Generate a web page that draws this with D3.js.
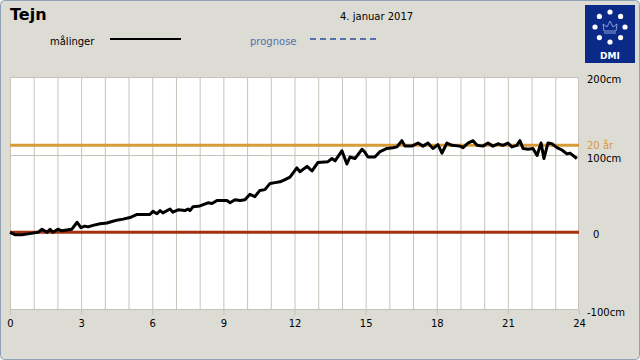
<!DOCTYPE html>
<html><head><meta charset="utf-8">
<script src="https://cdn.jsdelivr.net/npm/d3@7"></script>
<style>body{margin:0;background:#fff}svg{display:block;font-family:"DejaVu Sans",sans-serif}</style>
</head><body><svg id="c" width="640" height="360"></svg>
<script>
const hours = [0,0.21,0.51,0.76,0.97,1.18,1.35,1.56,1.69,1.81,2.02,2.19,2.40,2.61,2.83,2.99,3.16,3.29,3.50,3.80,4.09,4.30,4.56,4.77,5.06,5.36,5.90,6.03,6.20,6.33,6.45,6.75,6.87,7.09,7.38,7.51,7.59,7.72,8.01,8.35,8.52,8.73,9.15,9.28,9.49,9.70,9.91,10.12,10.33,10.54,10.75,10.97,11.18,11.39,11.60,11.81,12.10,12.23,12.53,12.74,12.99,13.41,13.58,13.71,14.00,14.21,14.34,14.55,14.85,14.97,15.10,15.39,15.61,15.90,16.15,16.32,16.53,16.66,16.95,17.21,17.42,17.63,17.84,18.05,18.22,18.43,18.64,18.98,19.11,19.32,19.53,19.70,19.95,20.16,20.37,20.58,20.79,21.00,21.17,21.38,21.51,21.64,21.85,22.06,22.23,22.40,22.52,22.69,22.86,23.07,23.28,23.49,23.62,23.91];
const levels = [0,-3,-3,-2,-1,0,4,0,4,0,4,2,3,4,13,6,8,7,9,11,12,14,16,17,19,23,23,27,24,28,25,30,26,29,28,30,28,33,34,38,37,41,41,38,42,41,42,49,46,54,55,63,64,65,68,71,83,78,85,79,90,91,95,92,105,88,97,95,107,103,97,97,104,108,109,110,118,111,111,115,111,115,108,113,102,115,112,111,109,115,118,112,111,115,111,114,112,115,110,112,118,108,107,108,99,115,95,115,114,109,106,101,102,95];
const xTicks = [0,3,6,9,12,15,18,21,24];
const yTicks = [200,100,0,-100];
const yTickLabels = ["200cm","100cm","0","-100cm"];
const level20 = 112;
const title = "Tejn", dateText = "4. januar 2017";

const svg = d3.select("#c");
svg.append("rect").attr("x",0.5).attr("y",0.5).attr("width",639).attr("height",359).attr("rx",4)
  .attr("fill","#dcdbd4").attr("stroke","#8fa1b5");

const x = d3.scaleLinear().domain([0,24]).range([10,579]);
const y = d3.scaleLinear().domain([-100,200]).range([310,77]);

svg.append("rect").attr("x",10).attr("y",77).attr("width",569).attr("height",233).attr("fill","#fff");

// vertical hour grid
svg.append("g").selectAll("line").data(d3.range(1,24)).join("line")
  .attr("x1",d=>x(d)+0.5).attr("x2",d=>x(d)+0.5).attr("y1",77).attr("y2",310)
  .attr("stroke","#c6c3b8").attr("stroke-width",1);
svg.append("line").attr("x1",10).attr("x2",579).attr("y1",Math.round(y(100))+0.5).attr("y2",Math.round(y(100))+0.5)
  .attr("stroke","#c6c3b8");
svg.append("rect").attr("x",10.5).attr("y",77.5).attr("width",568).attr("height",232)
  .attr("fill","none").attr("stroke","#c6c3b8");

// x axis
const xa = svg.append("g").attr("transform","translate(0,310)")
  .call(d3.axisBottom(x).tickValues(xTicks).tickSize(5).tickSizeOuter(0).tickPadding(5));
xa.select(".domain").remove();
xa.selectAll("line").attr("stroke","#c6c3b8");
xa.selectAll("text").attr("font-size",10).attr("fill","#000").attr("font-family","DejaVu Sans");

// y axis right
const ya = svg.append("g").attr("transform","translate(579,0)")
  .call(d3.axisRight(y).tickValues(yTicks).tickFormat((d,i)=>yTickLabels[i]).tickSize(0).tickPadding(8));
ya.select(".domain").remove();
ya.selectAll("text").attr("font-size",10).attr("fill","#000").attr("font-family","DejaVu Sans")
  .attr("dy",d=>d===100?"0.7em":"0.5em").attr("dx",d=>d===0?"6":"0");

// reference lines
svg.append("line").attr("x1",10).attr("x2",579).attr("y1",y(0)).attr("y2",y(0))
  .attr("stroke","#a3310d").attr("stroke-width",3);
svg.append("line").attr("x1",10).attr("x2",579).attr("y1",y(level20)).attr("y2",y(level20))
  .attr("stroke","#d99a38").attr("stroke-width",3);
svg.append("text").attr("x",587).attr("y",y(level20)+4).attr("font-size",10).attr("fill","#d99a38").text("20 år");

// data line
const line = d3.line().x((d,i)=>x(hours[i])).y(d=>y(d));
svg.append("path").datum(levels).attr("d",line).attr("fill","none")
  .attr("stroke","#000").attr("stroke-width",3).attr("stroke-linejoin","round");

// header
svg.append("text").attr("x",10).attr("y",20).attr("font-size",16).attr("font-weight","bold").text(title);
svg.append("text").attr("x",340).attr("y",20).attr("font-size",10).text(dateText);
svg.append("text").attr("x",50).attr("y",45).attr("font-size",10).text("målinger");
svg.append("line").attr("x1",110).attr("x2",181).attr("y1",39).attr("y2",39).attr("stroke","#000").attr("stroke-width",2);
svg.append("text").attr("x",250).attr("y",45).attr("font-size",10).attr("fill","#5573a8").text("prognose");
svg.append("line").attr("x1",310).attr("x2",376).attr("y1",39).attr("y2",39).attr("stroke","#5573a8")
  .attr("stroke-width",2).attr("stroke-dasharray","6,4");

// DMI logo
const lg = svg.append("g");
lg.append("rect").attr("x",585).attr("y",5).attr("width",50).attr("height",58).attr("fill","#0b2a87");
const cx=610, cy=27, r=15;
d3.range(8).forEach(i=>{
  const a = i*Math.PI/4 - Math.PI/2;
  lg.append("circle").attr("cx",cx+r*Math.cos(a)).attr("cy",cy+r*Math.sin(a)).attr("r",2.6).attr("fill","#fff");
});
lg.append("path").attr("d",`M${cx-6},${cy+4} L${cx-7},${cy-3} L${cx-3},${cy} L${cx},${cy-6} L${cx+3},${cy} L${cx+7},${cy-3} L${cx+6},${cy+4} Z M${cx-6},${cy+6} L${cx+6},${cy+6}`)
  .attr("fill","none").attr("stroke","#8a9fd6").attr("stroke-width",1);
lg.append("text").attr("x",610).attr("y",59).attr("text-anchor","middle").attr("font-size",9).attr("font-weight","bold")
  .attr("fill","#fff").attr("font-family","DejaVu Sans").text("DMI");
</script></body></html>
